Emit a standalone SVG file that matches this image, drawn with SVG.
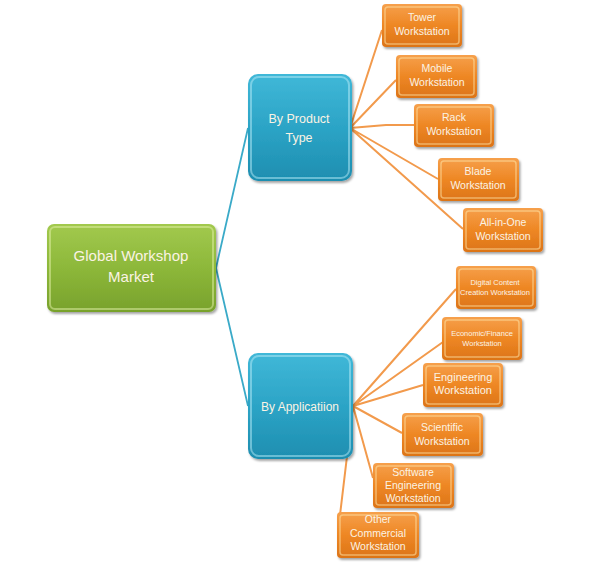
<svg xmlns="http://www.w3.org/2000/svg" width="589" height="563" viewBox="0 0 589 563">
<defs>
<linearGradient id="gO" x1="0" y1="0" x2="0" y2="1">
<stop offset="0" stop-color="#F6A04C"/><stop offset="0.5" stop-color="#EE8724"/><stop offset="1" stop-color="#DC7418"/>
</linearGradient>
<linearGradient id="gB" x1="0" y1="0" x2="0" y2="1">
<stop offset="0" stop-color="#40B8D8"/><stop offset="0.5" stop-color="#2CA4C6"/><stop offset="1" stop-color="#1E8EB0"/>
</linearGradient>
<linearGradient id="gG" x1="0" y1="0" x2="0" y2="1">
<stop offset="0" stop-color="#A2C94E"/><stop offset="0.5" stop-color="#8DB83A"/><stop offset="1" stop-color="#78A22C"/>
</linearGradient>
<filter id="sh" x="-10%" y="-10%" width="130%" height="130%">
<feDropShadow dx="1.5" dy="2" stdDeviation="1.2" flood-color="#000" flood-opacity="0.35"/>
</filter>
<style>
.o{fill:url(#gO);filter:url(#sh)}
.b{fill:url(#gB);filter:url(#sh)}
.g{fill:url(#gG);filter:url(#sh)}
.hi{fill:none;stroke:#FFE6A8;stroke-opacity:0.55;stroke-width:1.5}
.hb{fill:none;stroke:#B8ECF8;stroke-opacity:0.5;stroke-width:2}
.hg{fill:none;stroke:#E4F2A8;stroke-opacity:0.5;stroke-width:2}
text{font-family:"Liberation Sans",Arial,sans-serif;fill:#FBF3E4;text-anchor:middle}
.s{font-size:10.5px}
.xs{font-size:7.5px}
.m{font-size:11px}
.lo{stroke:#F29A4C;stroke-width:2;fill:none}
.lb{stroke:#3AAAC8;stroke-width:1.8;fill:none}
</style>
</defs>
<g id="connectors">
<path class="lb" d="M216,268 L248,128 M216,268 L248,406"/>
<path class="lo" d="M350,128 L382,30 M350,128 L396,80 M350,128 L386,125 L414,125 M350,128 L438,179 M350,128 L463,229"/>
<path class="lo" d="M353,406 L456,289 M353,406 L443,342 M353,406 L423,385 M353,406 L402,433 M353,406 L373,478 M353,406 L340,515"/>
</g>
<g id="n-global">
<rect class="g" x="47" y="224" width="169" height="88" rx="7"/>
<rect class="hg" x="50" y="227" width="163" height="82" rx="5"/>
<text x="131" y="261" font-size="15">Global Workshop</text>
<text x="131" y="282" font-size="15">Market</text>
</g>
<g id="n-product">
<rect class="b" x="248" y="74" width="104" height="107" rx="10"/>
<rect class="hb" x="251" y="77" width="98" height="101" rx="8"/>
<text x="299" y="123" font-size="12.5">By Product</text>
<text x="299" y="142" font-size="12.5">Type</text>
</g>
<g id="n-application">
<rect class="b" x="248" y="353" width="105" height="106" rx="10"/>
<rect class="hb" x="251" y="356" width="99" height="100" rx="8"/>
<text x="300" y="411" font-size="12">By Applicatiion</text>
</g>
<g id="n-tower">
<rect class="o" x="382" y="4" width="80" height="43" rx="4"/>
<rect class="hi" x="385" y="7" width="74" height="37" rx="3"/>
<text class="s" x="422" y="21">Tower</text>
<text class="s" x="422" y="35">Workstation</text>
</g>
<g id="n-mobile">
<rect class="o" x="396" y="55" width="81" height="43" rx="4"/>
<rect class="hi" x="399" y="58" width="75" height="37" rx="3"/>
<text class="s" x="437" y="72">Mobile</text>
<text class="s" x="437" y="86">Workstation</text>
</g>
<g id="n-rack">
<rect class="o" x="414" y="104" width="80" height="43" rx="4"/>
<rect class="hi" x="417" y="107" width="74" height="37" rx="3"/>
<text class="s" x="454" y="121">Rack</text>
<text class="s" x="454" y="135">Workstation</text>
</g>
<g id="n-blade">
<rect class="o" x="438" y="158" width="81" height="43" rx="4"/>
<rect class="hi" x="441" y="161" width="75" height="37" rx="3"/>
<text class="s" x="478" y="175">Blade</text>
<text class="s" x="478" y="189">Workstation</text>
</g>
<g id="n-allinone">
<rect class="o" x="463" y="208" width="80" height="44" rx="4"/>
<rect class="hi" x="466" y="211" width="74" height="38" rx="3"/>
<text class="s" x="503" y="226">All-in-One</text>
<text class="s" x="503" y="240">Workstation</text>
</g>
<g id="n-digital">
<rect class="o" x="456" y="266" width="80" height="43" rx="4"/>
<rect class="hi" x="459" y="269" width="74" height="37" rx="3"/>
<text class="xs" x="495" y="285">Digital Content</text>
<text class="xs" x="495" y="295">Creation  Workstation</text>
</g>
<g id="n-economic">
<rect class="o" x="442" y="317" width="80" height="43" rx="4"/>
<rect class="hi" x="445" y="320" width="74" height="37" rx="3"/>
<text class="xs" x="482" y="336">Economic/Finance</text>
<text class="xs" x="482" y="346">Workstation</text>
</g>
<g id="n-engineering">
<rect class="o" x="423" y="363" width="80" height="44" rx="4"/>
<rect class="hi" x="426" y="366" width="74" height="38" rx="3"/>
<text class="m" x="463" y="381">Engineering</text>
<text class="m" x="463" y="394">Workstation</text>
</g>
<g id="n-scientific">
<rect class="o" x="402" y="413" width="81" height="43" rx="4"/>
<rect class="hi" x="405" y="416" width="75" height="37" rx="3"/>
<text class="s" x="442" y="431">Scientific</text>
<text class="s" x="442" y="445">Workstation</text>
</g>
<g id="n-software">
<rect class="o" x="373" y="463" width="81" height="45" rx="4"/>
<rect class="hi" x="376" y="466" width="75" height="39" rx="3"/>
<text class="s" x="413" y="476">Software</text>
<text class="s" x="413" y="489">Engineering</text>
<text class="s" x="413" y="502">Workstation</text>
</g>
<g id="n-other">
<rect class="o" x="337" y="512" width="82" height="46" rx="4"/>
<rect class="hi" x="340" y="515" width="76" height="40" rx="3"/>
<text class="s" x="378" y="523">Other</text>
<text class="s" x="378" y="537">Commercial</text>
<text class="s" x="378" y="550">Workstation</text>
</g>
</svg>
